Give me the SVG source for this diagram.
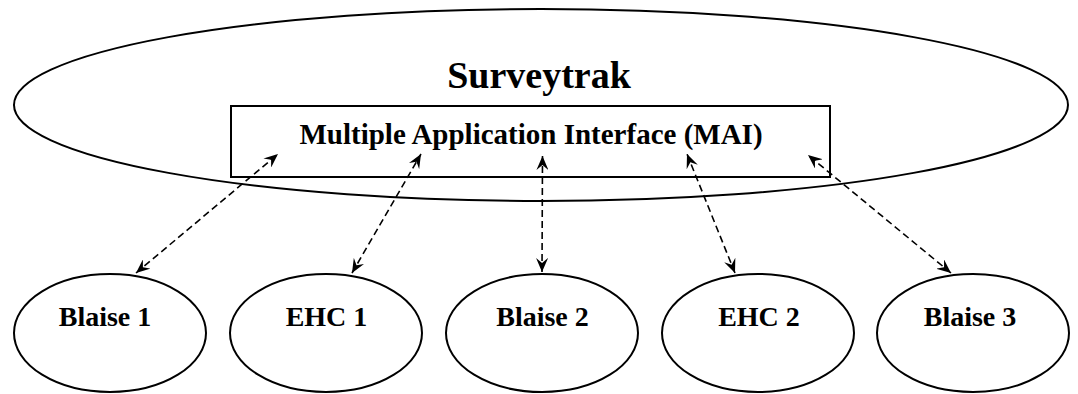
<svg xmlns="http://www.w3.org/2000/svg" width="1078" height="394" viewBox="0 0 1078 394">
  <style>
    .shape { fill: #fff; stroke: #000; stroke-width: 2; }
    .lbl { font-family: "Liberation Serif", "Times New Roman", serif; font-weight: bold; fill: #000; text-anchor: middle; }
    .conn { stroke: #000; stroke-width: 1.6; stroke-dasharray: 7 4; fill: none; marker-start: url(#ah); marker-end: url(#ah); }
  </style>
  <defs>
    <marker id="ah" viewBox="0 0 14 12" refX="14" refY="6" markerWidth="14" markerHeight="12" markerUnits="userSpaceOnUse" orient="auto-start-reverse">
      <path d="M0,0 L14,6 L0,12 L5,6 z" fill="#000"/>
    </marker>
  </defs>
  <rect width="1078" height="394" fill="#fff"/>
  <g id="surveytrak">
    <ellipse class="shape" cx="541" cy="105" rx="527" ry="96"/>
    <text class="lbl" x="539" y="88" font-size="38">Surveytrak</text>
  </g>
  <g id="mai">
    <rect class="shape" x="231" y="106" width="599" height="71"/>
    <text class="lbl" x="531" y="144" font-size="29">Multiple Application Interface (MAI)</text>
  </g>
  <g id="blaise1">
    <ellipse class="shape" cx="110" cy="333" rx="96" ry="59"/>
    <text class="lbl" x="105" y="326" font-size="28">Blaise 1</text>
  </g>
  <g id="ehc1">
    <ellipse class="shape" cx="326" cy="333" rx="96" ry="59"/>
    <text class="lbl" x="326.5" y="326" font-size="28">EHC 1</text>
  </g>
  <g id="blaise2">
    <ellipse class="shape" cx="542" cy="333" rx="96" ry="59"/>
    <text class="lbl" x="542.5" y="326" font-size="28">Blaise 2</text>
  </g>
  <g id="ehc2">
    <ellipse class="shape" cx="758" cy="333" rx="96" ry="59"/>
    <text class="lbl" x="759" y="326" font-size="28">EHC 2</text>
  </g>
  <g id="blaise3">
    <ellipse class="shape" cx="973" cy="333" rx="96" ry="59"/>
    <text class="lbl" x="970" y="326" font-size="28">Blaise 3</text>
  </g>
  <g id="connectors">
    <line class="conn" x1="136" y1="273" x2="278" y2="154"/>
    <line class="conn" x1="352" y1="273" x2="421" y2="154"/>
    <line class="conn" x1="542" y1="272" x2="542.5" y2="156"/>
    <line class="conn" x1="735" y1="273" x2="687" y2="154"/>
    <line class="conn" x1="951" y1="273" x2="808" y2="155"/>
  </g>
</svg>
